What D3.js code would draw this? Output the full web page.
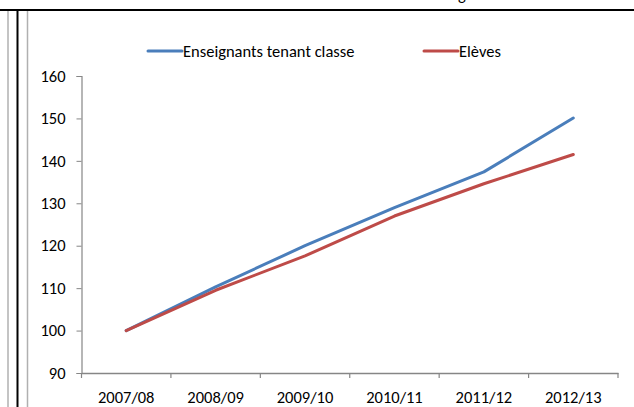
<!DOCTYPE html>
<html>
<head>
<meta charset="utf-8">
<script src="https://cdn.jsdelivr.net/npm/d3@7"></script>
<style>
  html, body { margin: 0; padding: 0; background: #fff; }
  svg { display: block; }
  text { font-family: Carlito, Calibri, Lato, "Liberation Sans", sans-serif; font-size: 16.5px; fill: #000; }
</style>
</head>
<body>
<svg id="chart" width="634" height="407"></svg>
<script>
// Index values (base 100 in 2007/08)
const years = ["2007/08", "2008/09", "2009/10", "2010/11", "2011/12", "2012/13"];
const teachers = [100, 110.3, 120.0, 129.0, 137.4, 150.1];
const pupils = [100, 109.5, 117.6, 127.0, 134.6, 141.5];
const yTicks = [90, 100, 110, 120, 130, 140, 150, 160];
const seriesNames = ["Enseignants tenant classe", "Elèves"];
const seriesColors = ["#4a7ebb", "#be4b48"];

const FONT = "Carlito, Calibri, Lato, 'Liberation Sans', sans-serif";
const FONT_SIZE = "16.5px";

const svg = d3.select("#chart");
const W = 634, H = 407;

// Page frame: top rule and left margin rules
svg.append("text").attr("x", 458).attr("y", 0).text("g");
svg.append("line").attr("x1", 0).attr("x2", W).attr("y1", 10).attr("y2", 10)
  .attr("stroke", "#000").attr("stroke-width", 2);
svg.append("line").attr("x1", 8).attr("x2", 8).attr("y1", 11).attr("y2", H)
  .attr("stroke", "#b0b0b0").attr("stroke-width", 1.5);
svg.append("line").attr("x1", 17.5).attr("x2", 17.5).attr("y1", 9).attr("y2", H)
  .attr("stroke", "#000").attr("stroke-width", 2);
svg.append("line").attr("x1", 27.5).attr("x2", 27.5).attr("y1", 11).attr("y2", H)
  .attr("stroke", "#b0b0b0").attr("stroke-width", 1.5);

const plotLeft = 81.5, plotRight = 618, plotTop = 76, plotBottom = 373;

const x = d3.scaleBand().domain(years).range([plotLeft, plotRight]);
const y = d3.scaleLinear().domain([90, 160]).range([plotBottom, plotTop]);

const axisColor = "#868686";

// Y axis
const yAxis = svg.append("g").attr("transform", `translate(${plotLeft},0)`)
  .call(d3.axisLeft(y).tickValues(yTicks).tickSize(5).tickPadding(11).tickFormat(d3.format("d")));
yAxis.select(".domain").attr("stroke", axisColor).attr("stroke-width", 1.2);
yAxis.selectAll(".tick line").attr("stroke", axisColor);

// X axis with ticks on category boundaries
const xAxis = svg.append("g").attr("transform", `translate(0,${plotBottom})`)
  .call(d3.axisBottom(x).tickSize(0).tickPadding(18.5));
xAxis.select(".domain").attr("stroke", axisColor).attr("stroke-width", 1.6);
const bounds = years.map(d => x(d)).concat([x(years[years.length - 1]) + x.bandwidth()]);
xAxis.selectAll("line.bound").data(bounds).enter().append("line")
  .attr("class", "bound")
  .attr("x1", d => d).attr("x2", d => d).attr("y1", 0).attr("y2", 5)
  .attr("stroke", axisColor).attr("stroke-width", 1.2);

svg.selectAll(".tick text").style("font-family", FONT)
  .style("font-size", FONT_SIZE).attr("fill", "#000");

// Series lines
const line = d3.line()
  .x((d, i) => x(years[i]) + x.bandwidth() / 2)
  .y(d => y(d));

[teachers, pupils].forEach((vals, i) => {
  svg.append("path").datum(vals)
    .attr("d", line)
    .attr("fill", "none")
    .attr("stroke", seriesColors[i])
    .attr("stroke-width", 3)
    .attr("stroke-linejoin", "round")
    .attr("stroke-linecap", "round");
});

// Legend
const legendPos = [{x: 148, y: 51}, {x: 424, y: 51}];
seriesNames.forEach((name, i) => {
  const g = svg.append("g").attr("transform", `translate(${legendPos[i].x},${legendPos[i].y})`);
  g.append("line").attr("x1", 0).attr("x2", 34).attr("y1", 0).attr("y2", 0)
    .attr("stroke", seriesColors[i]).attr("stroke-width", 3).attr("stroke-linecap", "round");
  g.append("text").attr("x", 35).attr("y", 0).attr("dy", "0.35em").text(name);
});
</script>
</body>
</html>
